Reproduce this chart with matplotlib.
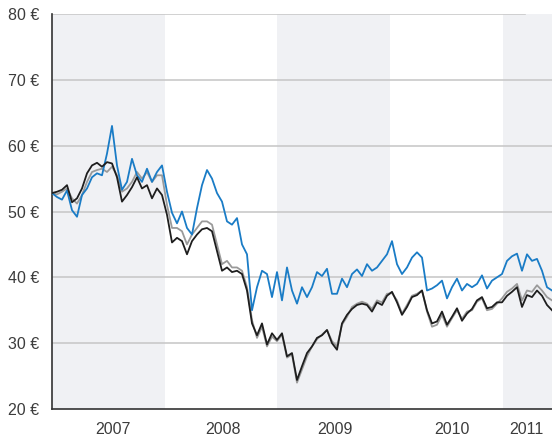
import matplotlib
matplotlib.use("Agg")
import matplotlib.pyplot as plt
import pandas as pd

plt.rcParams['font.family'] = ['Liberation Sans', 'DejaVu Sans']

# fortnightly closes, Jan 2007 - Jun 2011
dates = pd.date_range("2007-01-01", "2011-06-10", periods=101)

black = [52.8, 53.0, 53.3, 54.0, 51.4, 52.0, 53.5, 55.8, 57.0, 57.4,
         56.8, 57.5, 57.3, 55.2, 51.5, 52.5, 53.7, 55.2, 53.5, 54.0,
         52.0, 53.5, 52.5, 49.5, 45.3, 46.0, 45.5, 43.5, 45.5, 46.5,
         47.3, 47.5, 47.0, 44.0, 41.0, 41.5, 40.8, 41.0, 40.5, 38.0,
         33.0, 31.2, 33.0, 29.8, 31.5, 30.5, 31.5, 28.0, 28.5, 24.4,
         26.5, 28.5, 29.5, 30.8, 31.2, 32.0, 30.0, 29.0, 33.0, 34.3,
         35.2, 35.8, 36.0, 35.8, 34.8, 36.2, 35.8, 37.2, 37.8, 36.2,
         34.3, 35.5, 37.0, 37.3, 38.0, 35.0, 33.0, 33.3, 34.8, 32.8,
         34.0, 35.3, 33.4, 34.5, 35.2, 36.5, 37.0, 35.3, 35.5, 36.2,
         36.2, 37.2, 37.8, 38.5, 35.5, 37.3, 37.0, 38.0, 37.2, 35.8,
         35.0]

gray = [52.8, 52.6, 53.0, 53.5, 52.0, 51.2, 52.5, 54.5, 56.0, 56.3,
        56.5, 56.0, 56.8, 55.5, 53.0, 53.5, 54.5, 56.0, 55.0, 56.0,
        54.5, 55.5, 55.5, 51.0, 47.5, 47.5, 47.0, 45.0, 46.5, 47.5,
        48.5, 48.5, 48.0, 45.0, 42.0, 42.5, 41.5, 41.5, 41.0, 38.5,
        33.5, 30.8, 32.5, 29.5, 31.0, 30.3, 31.3, 27.8, 28.3, 24.0,
        26.0, 28.0, 29.5, 30.6, 31.3, 32.0, 30.3, 29.5, 32.8, 34.0,
        35.5, 36.0, 36.3, 36.0, 35.2, 36.5, 36.2, 37.5, 37.6, 36.5,
        34.5, 35.8, 37.2, 37.5, 38.0, 34.8, 32.5, 32.8, 34.3, 32.5,
        33.8, 35.0, 33.7, 34.8, 35.0, 36.3, 36.8, 35.0, 35.2, 36.0,
        36.8, 37.8, 38.3, 39.0, 36.5, 38.0, 37.8, 38.8, 38.0, 37.0,
        36.5]

blue = [52.8, 52.2, 51.8, 53.2, 50.2, 49.2, 52.5, 53.5, 55.2, 55.8,
        55.5, 58.8, 63.0, 57.0, 53.3, 54.5, 58.0, 55.5, 54.5, 56.5,
        54.5, 56.0, 57.0, 53.0, 49.8, 48.2, 50.0, 47.5, 46.5, 50.5,
        54.0, 56.3, 55.0, 52.8, 51.5, 48.5, 48.0, 49.0, 45.0, 43.5,
        35.0, 38.5, 41.0, 40.5, 37.0, 40.8, 36.5, 41.5, 38.0, 36.0,
        38.5, 37.0, 38.5, 40.8, 40.2, 41.3, 37.5, 37.5, 39.8, 38.5,
        40.5, 41.2, 40.2, 42.0, 41.0, 41.5, 42.5, 43.5, 45.5, 42.0,
        40.5, 41.5, 43.0, 43.8, 43.0, 38.0, 38.3, 38.8, 39.5, 36.8,
        38.5, 39.8, 38.0, 39.0, 38.5, 39.0, 40.3, 38.3, 39.5, 40.0,
        40.5, 42.5, 43.2, 43.6, 41.0, 43.5, 42.5, 42.8, 41.0, 38.5,
        38.0]

years = [2007, 2008, 2009, 2010, 2011]
year_label_pos = ["2007-07-19", "2008-07-07", "2009-07-05", "2010-07-20", "2011-03-19"]
y_ticks = [20, 30, 40, 50, 60, 70, 80]

fig = plt.figure(figsize=(5.52, 4.38), dpi=100)
ax = fig.add_axes([52 / 552, 1 - 409 / 438, 500 / 552, 395 / 438])

# shaded bands for every other year
for y in years[::2]:
    ax.axvspan(pd.Timestamp(f"{y}-01-01"), pd.Timestamp(f"{y + 1}-01-01"),
               color="#f0f1f4", lw=0, zorder=0)

for v in y_ticks[1:]:
    ax.axhline(v, color="#c9c9c9", lw=1.2, zorder=1,
               xmax=0.946 if v == 80 else 1)

ax.plot(dates, gray, color="#9a9a9a", lw=1.3, zorder=3)
ax.plot(dates, blue, color="#1a7cc6", lw=1.3, zorder=4)
ax.plot(dates, black, color="#1e1e1e", lw=1.3, zorder=5)

ax.set_xlim(dates[0], dates[-1])
ax.set_ylim(20, 80)
ax.set_yticks(y_ticks)
ax.set_yticklabels([f"{v} €" for v in y_ticks])
ax.set_xticks(pd.to_datetime(year_label_pos))
ax.set_xticklabels([str(y) for y in years])
ax.tick_params(length=0, labelsize=11.5, labelcolor="#3c3c3c")
ax.tick_params(axis="y", pad=9)
ax.tick_params(axis="x", pad=9)

for s in ["top", "right"]:
    ax.spines[s].set_visible(False)
for s in ["left", "bottom"]:
    ax.spines[s].set_color("#333333")
    ax.spines[s].set_linewidth(1.2)

savefig_kw = dict(dpi=100)
fig.savefig("out.png", **savefig_kw)
